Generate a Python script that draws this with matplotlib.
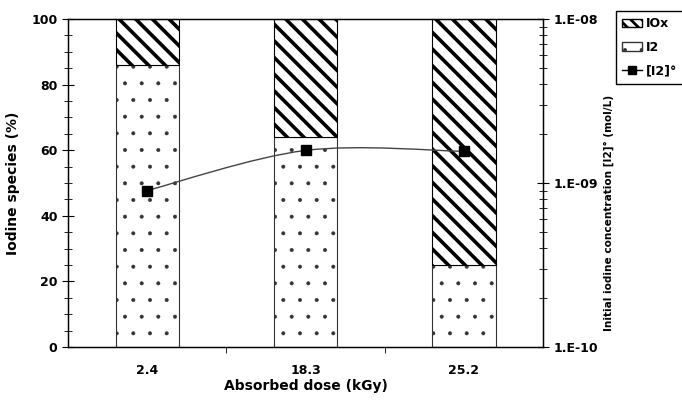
import numpy as np
import matplotlib.pyplot as plt
from matplotlib.path import Path
from matplotlib.patches import PathPatch, Patch
from matplotlib.lines import Line2D
from matplotlib.ticker import MultipleLocator, LogLocator, FuncFormatter

plt.rcParams['font.family'] = 'DejaVu Sans'
plt.rcParams['font.weight'] = 'bold'

doses = ['2.4', '18.3', '25.2']
i2_pct = [86, 64, 25]
iox_pct = [14, 36, 75]
i2_conc = [9.0e-10, 1.58e-9, 1.56e-9]

fig = plt.figure(figsize=(6.82, 4.03), dpi=100)
ax = fig.add_axes([68 / 682, 1 - 347 / 403, 475 / 682, 328 / 403])

x = np.arange(len(doses))
plt.rcParams['hatch.linewidth'] = 0.4
ax.bar(x, i2_pct, width=0.4, color='white', edgecolor='#333333', hatch='.', linewidth=0.8)
plt.rcParams['hatch.linewidth'] = 2.6
ax.bar(x, iox_pct, width=0.4, bottom=i2_pct, color='white', edgecolor='black',
       hatch='\\\\', linewidth=0.8)

ax.set_xlim(-0.5, 2.5)
ax.set_ylim(0, 100)
ax.set_xticks(x)
ax.set_xticklabels(doses, fontsize=9, fontweight='bold')
ax.tick_params(axis='x', length=0, pad=12)
ax.set_xticks([0.5, 1.5], minor=True)
ax.tick_params(axis='x', which='minor', length=4, direction='out')
ax.yaxis.set_major_locator(MultipleLocator(20))
ax.yaxis.set_minor_locator(MultipleLocator(5))
ax.tick_params(axis='y', which='major', direction='inout', length=8, labelsize=9)
ax.tick_params(axis='y', which='minor', direction='inout', length=6)
for lab in ax.get_yticklabels():
    lab.set_fontweight('bold')
ax.set_xlabel('Absorbed dose (kGy)', fontsize=10, fontweight='bold', labelpad=2)
ax.set_ylabel('Iodine species (%)', fontsize=10, fontweight='bold', labelpad=8)
for s in ax.spines.values():
    s.set_linewidth(1.0)

ax2 = ax.twinx()
ax2.set_yscale('log')
ax2.set_ylim(1e-10, 1e-8)
ax2.yaxis.set_major_locator(LogLocator(base=10))
ax2.yaxis.set_minor_locator(LogLocator(base=10, subs=np.arange(2, 10)))
ax2.yaxis.set_minor_formatter(FuncFormatter(lambda v, p: ''))
ax2.yaxis.set_major_formatter(FuncFormatter(lambda v, p: '1.E%03d' % int(round(np.log10(v)))))
ax2.tick_params(axis='y', which='major', direction='inout', length=8, labelsize=9)
ax2.tick_params(axis='y', which='minor', direction='inout', length=6)
for lab in ax2.get_yticklabels():
    lab.set_fontweight('bold')
ax2.set_ylabel('Initial iodine concentration [I2]° (mol/L)', fontsize=7.6,
               fontweight='bold')
ax2.yaxis.set_label_coords(1.128, 0.41)

# smooth curve (Excel-style) through the points, drawn with cubic Bezier segments
ly = np.log10(i2_conc)
verts = [(x[0], ly[0])]
codes = [Path.MOVETO]
n = len(x)
for i in range(n - 1):
    p0 = (x[max(i - 1, 0)], ly[max(i - 1, 0)])
    p1 = (x[i], ly[i])
    p2 = (x[i + 1], ly[i + 1])
    p3 = (x[min(i + 2, n - 1)], ly[min(i + 2, n - 1)])
    c1 = (p1[0] + (p2[0] - p0[0]) / 6, p1[1] + (p2[1] - p0[1]) / 6)
    c2 = (p2[0] - (p3[0] - p1[0]) / 6, p2[1] - (p3[1] - p1[1]) / 6)
    verts += [c1, c2, p2]
    codes += [Path.CURVE4] * 3
ax3 = ax.twinx()
ax3.set_ylim(-10, -8)
ax3.axis('off')
ax3.add_patch(PathPatch(Path(verts, codes), facecolor='none', edgecolor='#444444', lw=1.0))
ax3.plot(x, ly, linestyle='none', marker='s', markersize=6.5, color='black')

h_iox = Patch(facecolor='white', edgecolor='black', hatch='\\\\\\')
h_i2 = Patch(facecolor='white', edgecolor='#333333', hatch='.')
h_line = Line2D([], [], color='black', marker='s', markersize=5.5, lw=1)
leg = fig.legend([h_iox, h_i2, h_line], ['IOx', 'I2', '[I2]°'], loc='upper left',
                 bbox_to_anchor=(616 / 682, 1 - 11 / 403), fancybox=False,
                 edgecolor='black', fontsize=9, handlelength=1.6, labelspacing=0.85,
                 borderpad=0.5, handletextpad=0.3, borderaxespad=0, framealpha=1)
lp = leg.get_patches()
if hasattr(lp[0], 'set_hatch_linewidth'):
    lp[0].set_hatch_linewidth(2.0)
    lp[1].set_hatch_linewidth(0.4)

fig.savefig('out.png', dpi=100)
